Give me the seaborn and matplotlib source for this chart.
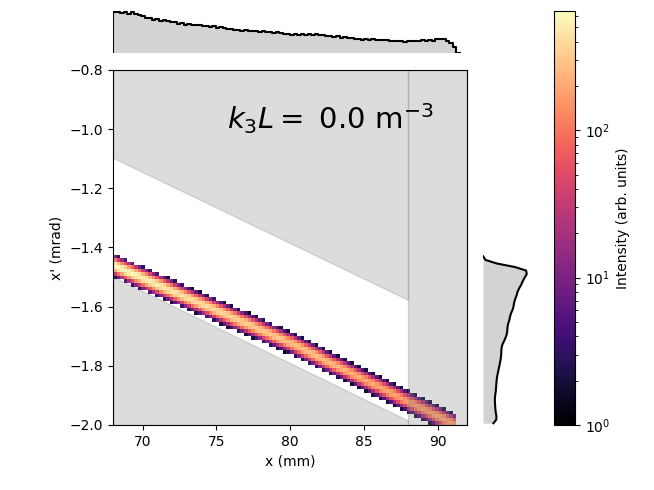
import numpy as np
import matplotlib
matplotlib.use("Agg")
import matplotlib.pyplot as plt
from matplotlib.colors import LogNorm
import seaborn as sns

# ---- data ----
X_RANGE = (68.0, 92.0)      # mm
XP_RANGE = (-2.0, -0.8)     # mrad
N_BINS = 100

# centre line of the streak (x in mm, x' in mrad)
RIDGE_X = [68.0, 80.0, 89.5, 91.3]
RIDGE_XP = [-1.460, -1.722, -1.958, -2.003]
BEAM_END = 91.28

# peak counts along the streak (scaled from the top projection)
PEAK_X = [68.0, 69.4, 70.0, 70.7, 71.7, 72.5, 73.9, 75.0, 76.1, 77.3,
          79.5, 79.8, 81.8, 82.9, 84.8, 86.8, 87.5, 89.7, 90.4, 91.1]
PEAK_COUNTS = [650, 635, 580, 545, 510, 470, 440, 415, 375, 350,
               325, 295, 295, 270, 220, 205, 185, 205, 240, 200]

# cross-section of the streak: offset from centre (mrad) -> fraction of peak
PROFILE_DXP = [-0.040, -0.030, -0.020, -0.010, 0.0, 0.010, 0.020, 0.030, 0.040]
PROFILE_LEVEL = [0.004, 0.03, 0.2, 0.7, 1.0, 0.7, 0.2, 0.03, 0.004]

# acceptance edges
MASK_X = [68.0, 88.0]
MASK_UPPER = [-1.097, -1.577]
MASK_LOWER = [-1.499, -1.985]
SLIT_X = 88.0

K3L = 0.0
VMAX = 650

# ---- build the 2D histogram cells ----
dx = (X_RANGE[1] - X_RANGE[0]) / N_BINS
dy = (XP_RANGE[1] - XP_RANGE[0]) / N_BINS
xc = X_RANGE[0] + dx * (np.arange(N_BINS) + 0.5)
yc = XP_RANGE[0] + dy * (np.arange(N_BINS) + 0.5)
X, Y = np.meshgrid(xc, yc, indexing="ij")

ridge = np.interp(X, RIDGE_X, RIDGE_XP)
peak = np.interp(X, PEAK_X, PEAK_COUNTS)
level = np.exp(np.interp(Y - ridge, PROFILE_DXP, np.log(PROFILE_LEVEL),
                         left=-np.inf, right=-np.inf))
counts = np.round(peak * level)
counts[X > BEAM_END] = 0

keep = counts.ravel() >= 1
cx = X.ravel()[keep]
cy = Y.ravel()[keep]
w = counts.ravel()[keep]

# ---- figure ----
fig = plt.figure(figsize=(6.54, 4.9), dpi=100)
ax = fig.add_axes([0.1728, 0.1327, 0.5413, 0.7245])
ax_top = fig.add_axes([0.1728, 0.8912, 0.5413, 0.0892], sharex=ax)
ax_right = fig.add_axes([0.7385, 0.1327, 0.0703, 0.7245], sharey=ax)
cax = fig.add_axes([0.847, 0.1327, 0.0321, 0.8455])

# acceptance shading (under the beam)
ax.fill_between(MASK_X, MASK_UPPER, XP_RANGE[1], color="gray", alpha=0.27, zorder=0.5)
ax.fill_between(MASK_X, MASK_LOWER, XP_RANGE[0], color="gray", alpha=0.27, zorder=0.5)

sns.histplot(
    x=cx, y=cy, weights=w, bins=N_BINS, binrange=(X_RANGE, XP_RANGE),
    cmap="magma", ax=ax, zorder=1,
)
mesh = ax.collections[-1]
mesh.set_norm(LogNorm(vmin=1, vmax=VMAX))
fig.colorbar(mesh, cax=cax, label="Intensity (arb. units)")

# slit region on top of the beam
ax.axvspan(SLIT_X, X_RANGE[1], color="gray", alpha=0.27, zorder=2)

ax.text(0.906, 0.912, r"$k_3L = $ " + f"{K3L:.1f}" + r" m$^{-3}$",
        transform=ax.transAxes, ha="right", va="top", fontsize=21)

ax.set_xlabel("x (mm)")
ax.set_ylabel("x' (mrad)")

# top projection
top_range = (X_RANGE[0] - dx, BEAM_END + dx)
top_bins = int(round((top_range[1] - top_range[0]) / dx))
sns.histplot(x=cx, weights=w, bins=top_bins, binrange=top_range, element="step",
             fill=True, color="lightgray", alpha=1, linewidth=0, ax=ax_top)
sns.histplot(x=cx, weights=w, bins=top_bins, binrange=top_range, element="step",
             fill=False, color="black", linewidth=1.5, ax=ax_top)
ax_top.set_ylim(bottom=0)
ax_top.axis("off")

# side projection
y_top = cy.max() + dy / 2
side_bins = int(round((y_top - XP_RANGE[0]) / dy))
sns.histplot(y=cy, weights=w, bins=side_bins, binrange=(XP_RANGE[0], y_top),
             element="poly", fill=True, color="lightgray", alpha=1, linewidth=0,
             ax=ax_right)
sns.histplot(y=cy, weights=w, bins=side_bins, binrange=(XP_RANGE[0], y_top),
             element="poly", fill=False, color="black", linewidth=1.5, ax=ax_right)
ax_right.set_xlim(left=0)
ax_right.axis("off")

ax.set_xlim(X_RANGE)
ax.set_ylim(XP_RANGE)

fig.savefig("out.png", dpi=100)
